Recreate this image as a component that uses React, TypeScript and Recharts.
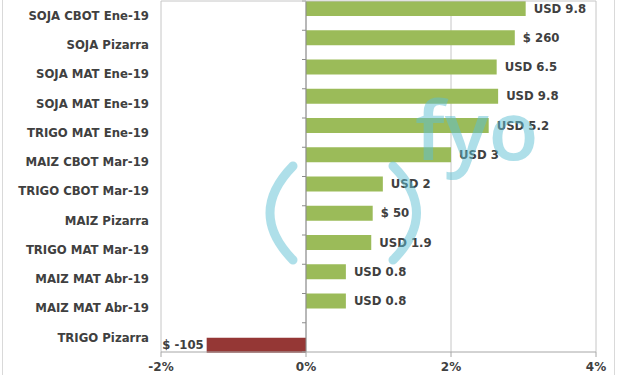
import {
  Bar,
  BarChart,
  CartesianGrid,
  LabelList,
  ReferenceLine,
  XAxis,
  YAxis,
} from "recharts";

const categories = [
  "SOJA CBOT Ene-19",
  "SOJA Pizarra",
  "SOJA MAT Ene-19",
  "SOJA MAT Ene-19",
  "TRIGO MAT Ene-19",
  "MAIZ CBOT Mar-19",
  "TRIGO CBOT Mar-19",
  "MAIZ Pizarra",
  "TRIGO MAT Mar-19",
  "MAIZ MAT Abr-19",
  "MAIZ MAT Abr-19",
  "TRIGO Pizarra",
];

// weekly change, in %
const gains = [3.03, 2.88, 2.63, 2.65, 2.52, 2.0, 1.06, 0.92, 0.9, 0.55, 0.55, null];
const losses = [null, null, null, null, null, null, null, null, null, null, null, -1.37];

const gainLabels = [
  "USD 9.8",
  "$ 260",
  "USD 6.5",
  "USD 9.8",
  "USD 5.2",
  "USD 3",
  "USD 2",
  "$ 50",
  "USD 1.9",
  "USD 0.8",
  "USD 0.8",
  null,
];
const lossLabels = [null, null, null, null, null, null, null, null, null, null, null, "$ -105"];

const xTicks = [-2, 0, 2, 4];

const FONT = '"DejaVu Sans", Verdana, sans-serif';
const TEXT = "#404040";
const GREEN = "#9bbb59";
const RED = "#953735";
const GRID = "#c6c6c6";

const rows = categories.map((name, i) => ({
  name,
  gain: gains[i],
  loss: losses[i],
  gainLabel: gainLabels[i],
  lossLabel: lossLabels[i],
}));

// zero axis drawn like Excel's: line plus small marks between categories
function ZeroAxis(p: { x1: number; y1: number; x2: number; y2: number }) {
  const n = categories.length;
  const step = (p.y2 - p.y1) / n;
  return (
    <g>
      <line x1={p.x1} y1={p.y1} x2={p.x2} y2={p.y2} stroke="#8c8c8c" strokeWidth={1} />
      {Array.from({ length: n + 1 }, (_, i) => (
        <line
          key={i}
          x1={p.x1 - 4}
          x2={p.x1}
          y1={p.y1 + i * step}
          y2={p.y1 + i * step}
          stroke="#8c8c8c"
          strokeWidth={1}
        />
      ))}
    </g>
  );
}

function Watermark() {
  return (
    <svg
      width={620}
      height={375}
      style={{ position: "absolute", left: 0, top: 0, pointerEvents: "none" }}
    >
      <g opacity={0.5} stroke="#5fc0d4" fill="none" strokeWidth={9} strokeLinecap="round">
        <path d="M 293 166 Q 247 213 293 260" />
        <path d="M 393 166 Q 440 213 393 260" />
      </g>
      <text
        x={415}
        y={160}
        fontFamily='"Open Sans", sans-serif'
        fontWeight={600}
        fontSize={82}
        fill="#5fc0d4"
        opacity={0.5}
      >
        fyo
      </text>
    </svg>
  );
}

export default function App() {
  return (
    <div
      style={{
        position: "absolute",
        left: 0,
        top: 0,
        width: 620,
        height: 375,
        background: "#fff",
        overflow: "hidden",
      }}
    >
      <div
        style={{
          position: "absolute",
          left: 2,
          top: -1,
          width: 611,
          height: 380,
          border: "1px solid #d9d9d9",
        }}
      />
      <BarChart
        width={620}
        height={375}
        data={rows}
        layout="vertical"
        margin={{ top: 0, right: 24, bottom: 0, left: 0 }}
        barGap={0}
        barCategoryGap={0}
        style={{ position: "absolute", left: 0, top: 0 }}
      >
        <CartesianGrid stroke={GRID} horizontal={false} />
        <XAxis
          xAxisId="top"
          orientation="top"
          type="number"
          domain={[-2, 4]}
          height={1}
          tick={false}
          tickLine={false}
          stroke={GRID}
        />
        <XAxis
          type="number"
          domain={[-2, 4]}
          ticks={xTicks}
          tickFormatter={(v: number) => `${v}%`}
          height={23}
          tickSize={5}
          tickMargin={5}
          stroke="#a6a6a6"
          tick={{ fill: TEXT, fontSize: 12, fontWeight: "bold", fontFamily: FONT }}
        />
        <YAxis
          type="category"
          dataKey="name"
          width={161}
          interval={0}
          axisLine={false}
          tickLine={false}
          tickSize={0}
          tickMargin={12}
          tick={{ fill: TEXT, fontSize: 11.7, fontWeight: "bold", fontFamily: FONT }}
        />
        <Bar dataKey="gain" fill={GREEN} isAnimationActive={false}>
          <LabelList
            dataKey="gainLabel"
            position="right"
            offset={8}
            fill={TEXT}
            fontSize={11.7}
            fontWeight="bold"
            fontFamily={FONT}
          />
        </Bar>
        <Bar dataKey="loss" fill={RED} isAnimationActive={false}>
          <LabelList
            dataKey="lossLabel"
            position="right"
            offset={3}
            fill={TEXT}
            fontSize={11.7}
            fontWeight="bold"
            fontFamily={FONT}
          />
        </Bar>
        <ReferenceLine x={0} shape={ZeroAxis} />
      </BarChart>
      <Watermark />
    </div>
  );
}
